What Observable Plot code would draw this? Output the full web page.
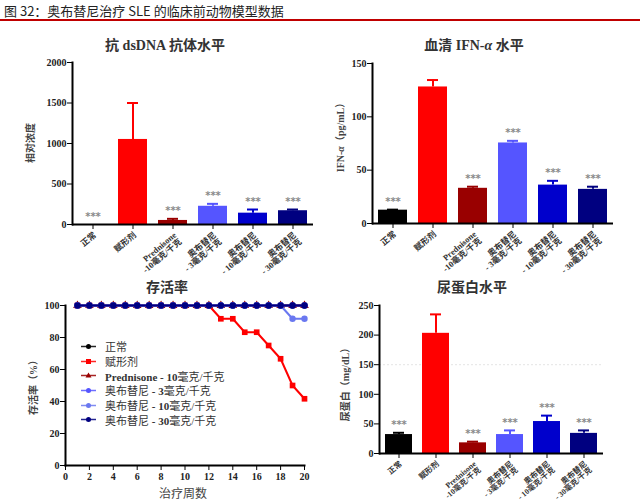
<!DOCTYPE html>
<html>
<head>
<meta charset="utf-8">
<script src="https://cdn.jsdelivr.net/npm/d3@7"></script>
<script src="https://cdn.jsdelivr.net/npm/@observablehq/plot@0.6"></script>
<style>
  html, body { margin: 0; padding: 0; background: #fff; }
  #root { position: relative; width: 640px; height: 504px; overflow: hidden; background: #fff; }
  .ptitle { position: absolute; transform: translateX(-50%); white-space: nowrap; font-family: 'Liberation Serif','Noto Sans CJK SC',serif; font-weight: bold; font-size: 14px; color: #333; }
  .ylab { position: absolute; transform: translate(-50%,-50%) rotate(-90deg); white-space: nowrap; font-family: 'Liberation Serif','Noto Sans CJK SC',serif; font-weight: bold; font-size: 10px; color: #444; }
  .legend { position: absolute; font-family: 'Liberation Serif','Noto Sans CJK SC',serif; font-size: 11px; color: #333; }
  .legend .row { display: flex; align-items: center; height: 14.7px; white-space: nowrap; }
  .legend svg { margin-right: 8px; }
  svg text { font-weight: bold; }
</style>
</head>
<body>
<div id="root"></div>
<script>
// ---------------- data ----------------
const groups = ["正常", "赋形剂", "Prednisone\n-10毫克/千克", "奥布替尼\n- 3毫克/千克", "奥布替尼\n- 10毫克/千克", "奥布替尼\n- 30毫克/千克"];
const barColors = ["#000000", "#ff0000", "#990000", "#5555ff", "#0000cc", "#000080"];
const sig = ["***", "", "***", "***", "***", "***"];

const dsdnaMean = [0, 1050, 50, 225, 140, 170];
const dsdnaErr = [0, 450, 20, 30, 45, 15];
const dsdnaTicks = [0, 500, 1000, 1500, 2000];

const ifnMean = [12.5, 128, 33, 75.5, 36, 32];
const ifnErr = [0.5, 6.5, 1.5, 2, 4, 2.5];
const ifnTicks = [0, 50, 100, 150];

const proteinMean = [32, 203, 18, 32, 54, 34];
const proteinErr = [3, 32, 2, 7, 10, 5];
const proteinTicks = [0, 50, 100, 150, 200, 250];
const proteinRefLine = 150;

const weeks = [1, 2, 3, 4, 5, 6, 7, 8, 9, 10, 11, 12, 13, 14, 15, 16, 17, 18, 19, 20];
const survivalSeries = ["正常", "赋形剂", "Prednisone - 10毫克/千克", "奥布替尼 - 3毫克/千克", "奥布替尼 - 10毫克/千克", "奥布替尼 - 30毫克/千克"];
const survivalColors = ["#000000", "#ff0000", "#990000", "#5555ff", "#6a78f0", "#000080"];
const survivalSymbols = ["circle", "square", "triangle", "circle", "circle", "circle"];
const survNormal = [100, 100, 100, 100, 100, 100, 100, 100, 100, 100, 100, 100, 100, 100, 100, 100, 100, 100, 100, 100];
const survVehicle = [100, 100, 100, 100, 100, 100, 100, 100, 100, 100, 100, 100, 91.7, 91.7, 83.3, 83.3, 75, 66.7, 50, 41.7];
const survPred = [100, 100, 100, 100, 100, 100, 100, 100, 100, 100, 100, 100, 100, 100, 100, 100, 100, 100, 100, 100];
const surv3 = [100, 100, 100, 100, 100, 100, 100, 100, 100, 100, 100, 100, 100, 100, 100, 100, 100, 100, 100, 100];
const surv10 = [100, 100, 100, 100, 100, 100, 100, 100, 100, 100, 100, 100, 100, 100, 100, 100, 100, 100, 91.7, 91.7];
const surv30 = [100, 100, 100, 100, 100, 100, 100, 100, 100, 100, 100, 100, 100, 100, 100, 100, 100, 100, 100, 100];
const survivalValues = [survNormal, survVehicle, survPred, surv3, surv10, surv30];
const weekTicks = [0, 2, 4, 6, 8, 10, 12, 14, 16, 18, 20];
const survTicks = [0, 20, 40, 60, 80, 100];

// ---------------- layout helpers ----------------
const root = document.getElementById("root");
const serif = "'Liberation Serif','Noto Sans CJK SC',serif";

function place(el, left, top) {
  el.style.position = "absolute";
  el.style.left = left + "px";
  el.style.top = top + "px";
  root.appendChild(el);
  return el;
}
function addDiv(cls, html, left, top) {
  const d = document.createElement("div");
  d.className = cls;
  d.innerHTML = html;
  d.style.left = left + "px";
  d.style.top = top + "px";
  root.appendChild(d);
  return d;
}

// header
const header = document.createElement("div");
header.textContent = "图 32：奥布替尼治疗 SLE 的临床前动物模型数据";
header.style.cssText = "position:absolute;left:4px;top:2px;font-family:'Noto Sans CJK SC','Noto Sans',sans-serif;font-size:13px;color:#222;white-space:nowrap;line-height:18px;";
root.appendChild(header);
const rule = document.createElement("div");
rule.style.cssText = "position:absolute;left:0;top:19px;width:640px;height:1.5px;background:#c00000;";
root.appendChild(rule);

// ---------------- bar chart ----------------
function barChart({means, errs, ticks, width, height, marginLeft, marginRight, marginTop, marginBottom, capInset, refLine, labelSize}) {
  const data = groups.map((g, i) => ({g, m: means[i], top: means[i] + errs[i], c: barColors[i], s: sig[i], e: errs[i]}));
  const withErr = data.filter(d => d.e > 0);
  const marks = [];
  if (refLine != null) marks.push(Plot.ruleY([refLine], {stroke: "#e4e4e4", strokeDasharray: "2,2", strokeWidth: 1}));
  marks.push(
    Plot.barY(data, {x: "g", y: "m", fill: "c"}),
    Plot.ruleX(withErr, {x: "g", y1: "m", y2: "top", stroke: "c", strokeWidth: 2}),
    Plot.tickY(withErr, {x: "g", y: "top", stroke: "c", strokeWidth: 2, inset: capInset}),
    Plot.text(data.filter(d => d.s), {x: "g", y: "top", text: "s", dy: -8, fill: "#8a8a8a", fontSize: 10, fontFamily: "DejaVu Sans", letterSpacing: 1}),
    Plot.axisX({tickRotate: -40, tickSize: 5, tickPadding: 2, lineAnchor: "top", fontSize: labelSize, label: null, fontFamily: serif, fill: "#333"}),
    Plot.axisY({ticks, tickSize: 5, tickPadding: 1, fontSize: 10, label: null, fontFamily: serif, fill: "#222", tickFormat: d => String(d)}),
    Plot.ruleY([0], {strokeWidth: 2, stroke: "#000"}),
    Plot.frame({anchor: "left", strokeWidth: 2, stroke: "#000"})
  );
  return Plot.plot({
    width, height, marginLeft, marginRight, marginTop, marginBottom,
    style: {background: "transparent", overflow: "visible", fontFamily: serif},
    x: {domain: groups, paddingInner: 0.28, paddingOuter: 0.14},
    y: {domain: [ticks[0], ticks[ticks.length - 1]]},
    color: {type: "identity"},
    marks
  });
}

// Panel 1: anti-dsDNA
place(barChart({means: dsdnaMean, errs: dsdnaErr, ticks: dsdnaTicks, width: 320, height: 250,
  marginLeft: 72, marginRight: 7, marginTop: 32, marginBottom: 56, capInset: 9, labelSize: 8.5}), 0, 30);
addDiv("ptitle", "抗 dsDNA 抗体水平", 165, 34);
addDiv("ylab", "相对浓度", 29, 143);

// Panel 2: IFN-alpha
place(barChart({means: ifnMean, errs: ifnErr, ticks: ifnTicks, width: 320, height: 250,
  marginLeft: 52, marginRight: 27, marginTop: 33, marginBottom: 57, capInset: 9, labelSize: 8.5}), 320, 30);
addDiv("ptitle", "血清 IFN-<i>α</i> 水平", 474, 34);
addDiv("ylab", "IFN-<i>α</i>（pg/mL）", 339, 135);

// Panel 4: urine protein
place(barChart({means: proteinMean, errs: proteinErr, ticks: proteinTicks, width: 320, height: 214,
  marginLeft: 59, marginRight: 37, marginTop: 15, marginBottom: 51, capInset: 8, refLine: proteinRefLine, labelSize: 7.8}), 320, 290);
addDiv("ptitle", "尿蛋白水平", 472, 276);
addDiv("ylab", "尿蛋白（mg/dL）", 344, 382);

// ---------------- survival line chart ----------------
const survData = [];
survivalSeries.forEach((s, si) => weeks.forEach((w, wi) => survData.push({s, si, w, v: survivalValues[si][wi]})));
const survMarks = [];
survivalSeries.forEach((s, si) => {
  const d = survData.filter(r => r.si === si);
  survMarks.push(
    Plot.line(d, {x: "w", y: "v", stroke: survivalColors[si], strokeWidth: 2}),
    Plot.dot(d, {x: "w", y: "v", fill: survivalColors[si], r: 3.2, symbol: survivalSymbols[si]})
  );
});
const survPlot = Plot.plot({
  width: 320, height: 214, marginLeft: 65, marginRight: 16, marginTop: 15, marginBottom: 39,
  style: {background: "transparent", overflow: "visible", fontFamily: serif},
  x: {domain: [0, 20]},
  y: {domain: [0, 100]},
  marks: [
    ...survMarks,
    Plot.axisX({ticks: weekTicks, tickSize: 5, tickPadding: 2, fontSize: 10, label: null, fontFamily: serif, fill: "#222"}),
    Plot.axisY({ticks: survTicks, tickSize: 5, tickPadding: 1, fontSize: 10, label: null, fontFamily: serif, fill: "#222"}),
    Plot.frame({anchor: "left", strokeWidth: 2, stroke: "#000"}),
    Plot.frame({anchor: "bottom", strokeWidth: 2, stroke: "#000"})
  ]
});
place(survPlot, 0, 290);
addDiv("ptitle", "存活率", 167, 276);
addDiv("ylab", "存活率（%）", 32, 385);
const xl = addDiv("ptitle", "治疗周数", 183, 484);
xl.style.fontSize = "12px"; xl.style.fontWeight = "normal"; xl.style.color = "#444";

// legend
const legend = document.createElement("div");
legend.className = "legend";
legend.style.left = "80px";
legend.style.top = "339px";
survivalSeries.forEach((s, si) => {
  const row = document.createElement("div");
  row.className = "row";
  const sym = survivalSymbols[si];
  let shape;
  if (sym === "square") shape = `<rect x="6" y="4" width="5" height="5" fill="${survivalColors[si]}"/>`;
  else if (sym === "triangle") shape = `<path d="M8.5,3.5 L11.5,8.5 L5.5,8.5 Z" fill="${survivalColors[si]}"/>`;
  else shape = `<circle cx="8.5" cy="6.5" r="2.5" fill="${survivalColors[si]}"/>`;
  row.innerHTML = `<svg width="17" height="13"><line x1="1" x2="16" y1="6.5" y2="6.5" stroke="${survivalColors[si]}" stroke-width="1.5" opacity="0.85"/>${shape}</svg><span>${s.replace(/([A-Za-z0-9\- ]+)/g, '<b>$1</b>')}</span>`;
  legend.appendChild(row);
});
root.appendChild(legend);
</script>
</body>
</html>
